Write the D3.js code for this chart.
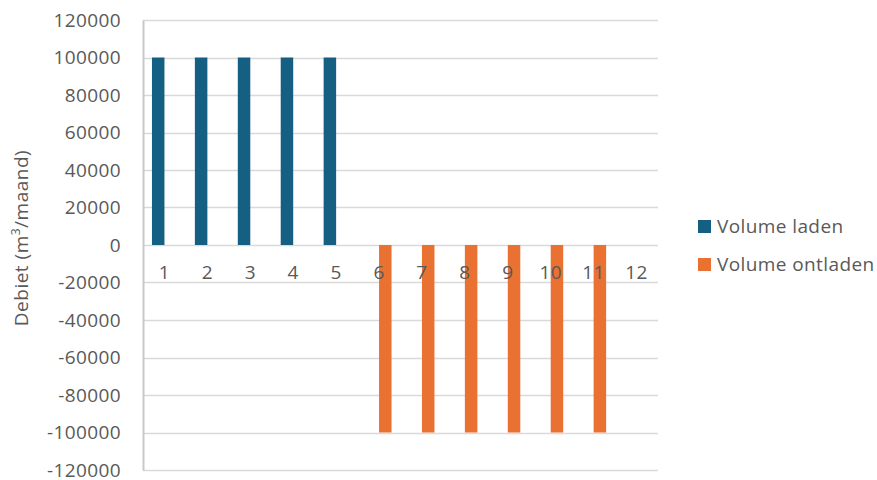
<!DOCTYPE html>
<html><head><meta charset="utf-8">
<script src="https://cdn.jsdelivr.net/npm/d3@7"></script>
<style>body{margin:0;background:#fff}svg{display:block}text{font-family:"Open Sans",sans-serif;fill:#595959}</style>
</head><body><svg id="c" width="877" height="480"></svg>
<script>
const categories = ["1","2","3","4","5","6","7","8","9","10","11","12"];
const seriesNames = ["Volume laden","Volume ontladen"];
const volumeLaden = [100000,100000,100000,100000,100000,0,0,0,0,0,0,0];
const volumeOntladen = [0,0,0,0,0,-100000,-100000,-100000,-100000,-100000,-100000,0];
const yTicks = [-120000,-100000,-80000,-60000,-40000,-20000,0,20000,40000,60000,80000,100000,120000];
const colors = ["#156082","#E97132"];

const svg = d3.select("#c");
const m = {l:143, r:658, t:20, b:470};
const x = d3.scaleBand().domain(categories).range([m.l, m.r]).paddingInner(0).paddingOuter(0);
const y = d3.scaleLinear().domain([-120000,120000]).range([m.b, m.t]);
const x1 = d3.scaleBand().domain(seriesNames).range([-12.5, 12.5]);

// gridlines
svg.append("g").selectAll("line").data(yTicks).join("line")
  .attr("x1", m.l).attr("x2", m.r)
  .attr("y1", d=>Math.round(y(d))+0.5).attr("y2", d=>Math.round(y(d))+0.5)
  .attr("stroke", "#d9d9d9").attr("stroke-width", 1.5);

// y axis
const ya = svg.append("g").attr("transform", `translate(${m.l},0)`)
  .call(d3.axisLeft(y).tickValues(yTicks).tickFormat(d => String(d)).tickSize(0).tickPadding(22));
ya.select(".domain").attr("stroke", "#c8c8c8").attr("stroke-width", 2);
ya.selectAll("text").style("font-size", "19px").style("letter-spacing", "0.4px").attr("fill", "#595959").attr("dy", "0.32em");

// bars
const data = [volumeLaden, volumeOntladen];
data.forEach((vals, si) => {
  svg.append("g").selectAll("rect").data(vals.map((v,i)=>({c:categories[i], v})).filter(d=>d.v!==0)).join("rect")
    .attr("x", d => x(d.c) + x.bandwidth()/2 + x1(seriesNames[si]))
    .attr("width", x1.bandwidth())
    .attr("y", d => y(Math.max(0, d.v)))
    .attr("height", d => Math.abs(y(d.v) - y(0)))
    .attr("fill", colors[si]);
});

// x axis labels
svg.append("g").selectAll("text").data(categories).join("text")
  .attr("x", d => x(d) + x.bandwidth()/2).attr("y", 279)
  .attr("text-anchor", "middle").style("font-size", "19px").style("letter-spacing", "0.4px").text(d => d);

// y axis title
svg.append("text").attr("transform", "translate(28,238) rotate(-90)")
  .attr("text-anchor", "middle").style("font-size", "19px").style("letter-spacing", "0.5px")
  .html('Debiet (m<tspan dy="-8" style="font-size:12px">3</tspan><tspan dy="8">/maand)</tspan>');

// legend
const lg = svg.append("g").selectAll("g").data(seriesNames).join("g")
  .attr("transform", (d,i) => `translate(698,${220 + i*38})`);
lg.append("rect").attr("width", 13).attr("height", 13).attr("fill", (d,i)=>colors[i]);
lg.append("text").attr("x", 19).attr("y", 13).style("font-size", "19px").style("letter-spacing", "0.4px").text(d=>d);
</script></body></html>
